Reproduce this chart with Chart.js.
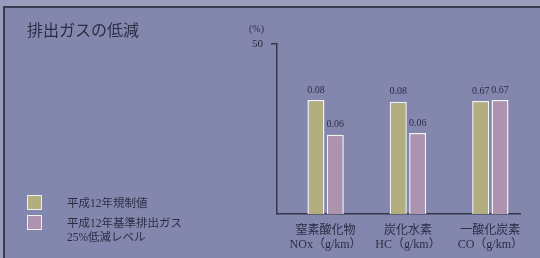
<!DOCTYPE html>
<html>
<head>
<meta charset="utf-8">
<script src="https://cdn.jsdelivr.net/npm/chart.js@4/dist/chart.umd.min.js"></script>
<style>
  html, body { margin: 0; padding: 0; }
  body { width: 540px; height: 258px; background: #9a9cbc; position: relative; overflow: hidden;
         font-family: "Liberation Serif", "Noto Sans CJK JP", serif; color: #2b2d45; }
  #panel { position: absolute; left: 3px; top: 6px; width: 537px; height: 252px; background: #8487ad;
           border-top: 2px solid #3a3c52; border-left: 2px solid #3a3c52; }
  #wrap { position: absolute; left: 0; top: 0; width: 540px; height: 258px; }
  .txt { position: absolute; white-space: nowrap; }
  #title { left: 27px; top: 17px; font-size: 16px; }
  #unit { left: 249px; top: 23px; font-size: 10px; }
  .sw { position: absolute; left: 27px; width: 13px; height: 13px; border: 1px solid #eeeeee; }
  .leg { left: 67px; font-size: 11.5px; line-height: 14px; }
</style>
</head>
<body>
<div id="panel"></div>
<div id="wrap"><canvas id="emChart" width="540" height="258"></canvas></div>
<div class="txt" id="title">排出ガスの低減</div>
<div class="txt" id="unit">(%)</div>
<div class="sw" style="top:195px;background:#b3ae7f"></div>
<div class="sw" style="top:215px;background:#ad93ad"></div>
<div class="txt leg" style="top:196px">平成12年規制値</div>
<div class="txt leg" style="top:216px">平成12年基準排出ガス<br>25%低減レベル</div>
<script>
// categories (two-line tick labels)
const categories = [
    ['窒素酸化物', 'NOx（g/km）'],
    ['炭化水素', 'HC（g/km）'],
    ['一酸化炭素', 'CO（g/km）']
];
const seriesNames = ['平成12年規制値', '平成12年基準排出ガス25%低減レベル'];
// bar heights in %
const regValues = [33.5, 33.0, 33.2];
const lowValues = [23.3, 23.8, 33.5];
// value labels printed above bars (g/km)
const regLabels = ['0.08', '0.08', '0.67'];
const lowLabels = ['0.06', '0.06', '0.67'];
const yTicks = [50];

const ink = '#2b2d45';
const valueLabels = [regLabels, lowLabels];

const barLabelPlugin = {
    id: 'barLabels',
    afterDatasetsDraw(chart) {
        const ctx = chart.ctx;
        ctx.save();
        ctx.fillStyle = ink;
        ctx.font = '10px "Liberation Serif", serif';
        ctx.textAlign = 'center';
        ctx.textBaseline = 'bottom';
        chart.data.datasets.forEach((ds, di) => {
            chart.getDatasetMeta(di).data.forEach((bar, i) => {
                ctx.fillText(valueLabels[di][i], bar.x, bar.y - 5);
            });
        });
        ctx.restore();
    }
};

const toPoints = (vals) => vals.map((v, i) => ({ x: i, y: v }));

new Chart('emChart', {
    type: 'bar',
    data: {
        datasets: [{
            label: seriesNames[0],
            data: toPoints(regValues),
            backgroundColor: '#b3ae7f',
            borderColor: '#f2f2f2',
            borderWidth: 1.5,
            categoryPercentage: 0.47,
            barPercentage: 0.88
        }, {
            label: seriesNames[1],
            data: toPoints(lowValues),
            backgroundColor: '#ad93ad',
            borderColor: '#f2f2f2',
            borderWidth: 1.5,
            categoryPercentage: 0.47,
            barPercentage: 0.88
        }]
    },
    options: {
        responsive: false,
        animation: false,
        layout: { padding: { left: 247, right: 20, top: 44, bottom: 0 } },
        plugins: { legend: { display: false }, tooltip: { enabled: false } },
        scales: {
            x: {
                type: 'linear',
                min: -0.59,
                max: 2.36,
                offset: false,
                afterBuildTicks: (s) => { s.ticks = categories.map((c, i) => ({ value: i })); },
                afterFit: (s) => { s.height = 44; },
                grid: { display: false },
                border: { display: true, color: '#34364c', width: 1.5 },
                ticks: {
                    color: ink,
                    padding: 2,
                    maxRotation: 0,
                    autoSkip: false,
                    font: { family: '"Liberation Serif", "Noto Sans CJK JP", serif', size: 12, lineHeight: 1.15 },
                    callback: (v) => categories[v]
                }
            },
            y: {
                min: 0,
                max: 50,
                afterBuildTicks: (s) => { s.ticks = yTicks.map(v => ({ value: v })); },
                afterFit: (s) => { s.width = 30; },
                grid: { drawOnChartArea: false, color: '#34364c', lineWidth: 1.5, tickLength: 6 },
                border: { display: true, color: '#34364c', width: 1.5 },
                ticks: {
                    color: ink,
                    padding: 8,
                    font: { family: '"Liberation Serif", serif', size: 11 }
                }
            }
        }
    },
    plugins: [barLabelPlugin]
});
</script>
</body>
</html>
